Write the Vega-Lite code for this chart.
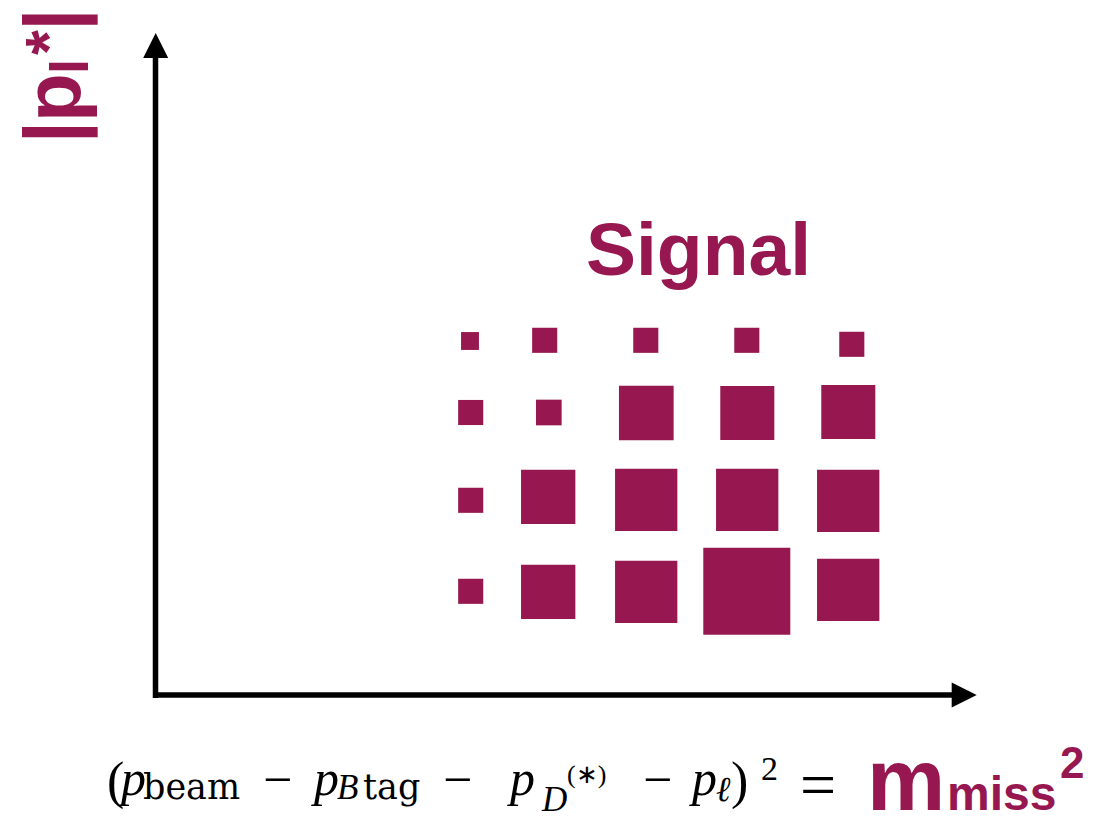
{
  "$schema": "https://vega.github.io/schema/vega-lite/v6.json",
  "width": 1097,
  "height": 816,
  "autosize": {"type": "none"},
  "padding": 0,
  "background": "white",
  "config": {"view": {"stroke": null}},
  "encoding": {
    "x": {"field": "x", "type": "quantitative", "scale": {"domain": [-1.56, 9.41], "nice": false, "zero": false}, "axis": null},
    "y": {"field": "y", "type": "quantitative", "scale": {"domain": [-1.21, 6.95], "nice": false, "zero": false}, "axis": null}
  },
  "layer": [
    {
      "data": {"values": [
        {"axis": "y", "x": -0.005, "x2": -0.005, "y": -0.03, "y2": 6.4},
        {"axis": "x", "x": -0.03, "x2": 7.98, "y": 0, "y2": 0}
      ]},
      "mark": {"type": "rule", "color": "black", "strokeWidth": 5.5, "strokeCap": "butt"},
      "encoding": {"x2": {"field": "x2"}, "y2": {"field": "y2"}}
    },
    {
      "data": {"values": [
        {"dir": "up", "x": -0.003, "y": 6.495},
        {"dir": "right", "x": 8.082, "y": 0}
      ]},
      "mark": {"type": "point", "filled": true, "size": 625, "color": "black", "opacity": 1, "strokeWidth": 0},
      "encoding": {
        "shape": {"field": "dir", "type": "nominal", "scale": {"domain": ["up", "right"], "range": ["M0,-1L1,1L-1,1Z", "M1,0L-1,-1L-1,1Z"]}, "legend": null}
      }
    },
    {
      "data": {"values": [
        {"x": 3.14, "y": 3.54, "n": 3.2},
        {"x": 3.887, "y": 3.547, "n": 6.3},
        {"x": 4.898, "y": 3.547, "n": 6.3},
        {"x": 5.908, "y": 3.547, "n": 6.3},
        {"x": 6.958, "y": 3.507, "n": 6.3},
        {"x": 3.147, "y": 2.825, "n": 6.3},
        {"x": 3.928, "y": 2.825, "n": 6.6},
        {"x": 4.903, "y": 2.82, "n": 29.9},
        {"x": 5.913, "y": 2.82, "n": 29.2},
        {"x": 6.923, "y": 2.83, "n": 29.2},
        {"x": 3.147, "y": 1.947, "n": 6.3},
        {"x": 3.922, "y": 1.982, "n": 29.5},
        {"x": 4.902, "y": 1.952, "n": 38.8},
        {"x": 5.912, "y": 1.952, "n": 38.8},
        {"x": 6.922, "y": 1.942, "n": 38.8},
        {"x": 3.147, "y": 1.037, "n": 6.3},
        {"x": 3.922, "y": 1.032, "n": 29.5},
        {"x": 4.902, "y": 1.032, "n": 38.8},
        {"x": 5.908, "y": 1.037, "n": 75.7},
        {"x": 6.922, "y": 1.052, "n": 38.8}
      ]},
      "mark": {"type": "square", "color": "#971850", "opacity": 1, "strokeWidth": 0},
      "encoding": {
        "size": {"field": "n", "type": "quantitative", "scale": {"domain": [0, 100], "range": [0, 10000], "zero": true}, "legend": null}
      }
    },
    {
      "data": {"values": [{"t": "Signal", "x": 5.425, "y": 4.2}]},
      "mark": {"type": "text", "font": "Liberation Sans", "fontWeight": "bold", "fontSize": 75, "color": "#971850", "align": "center", "baseline": "alphabetic"},
      "encoding": {"text": {"field": "t"}}
    },
    {
      "data": {"values": [
        {"t": "|", "x": -0.76, "y": 5.63},
        {"t": "p", "x": -0.76, "y": 5.975},
        {"t": "|", "x": -0.76, "y": 6.755}
      ]},
      "mark": {"type": "text", "font": "Liberation Sans", "fontWeight": "bold", "fontSize": 80, "color": "#971850", "align": "center", "baseline": "alphabetic", "angle": 270},
      "encoding": {"text": {"field": "t"}}
    },
    {
      "data": {"values": [{"t": "l", "x": -0.68, "y": 6.285}]},
      "mark": {"type": "text", "font": "Liberation Sans", "fontWeight": "bold", "fontSize": 54, "color": "#971850", "align": "center", "baseline": "alphabetic", "angle": 270},
      "encoding": {"text": {"field": "t"}}
    },
    {
      "data": {"values": [{"t": "*", "x": -0.85, "y": 6.525}]},
      "mark": {"type": "text", "font": "Liberation Sans", "fontWeight": "bold", "fontSize": 64, "color": "#971850", "align": "center", "baseline": "alphabetic", "angle": 270},
      "encoding": {"text": {"field": "t"}}
    },
    {
      "data": {"values": [
        {"t": "(", "x": -0.49, "y": -1.03},
        {"t": "−", "x": 1.07, "y": -1.02},
        {"t": "−", "x": 2.87, "y": -1.02},
        {"t": "−", "x": 4.87, "y": -1.02},
        {"t": ")", "x": 5.75, "y": -1.03}
      ]},
      "mark": {"type": "text", "font": "Liberation Serif", "fontSize": 52, "color": "black", "align": "left", "baseline": "alphabetic"},
      "encoding": {"text": {"field": "t"}}
    },
    {
      "data": {"values": [
        {"t": "p", "x": -0.35, "y": -1.0},
        {"t": "p", "x": 1.58, "y": -1.0},
        {"t": "p", "x": 3.54, "y": -1.0},
        {"t": "p", "x": 5.36, "y": -1.0}
      ]},
      "mark": {"type": "text", "font": "Liberation Serif", "fontStyle": "italic", "fontSize": 50, "color": "black", "align": "left", "baseline": "alphabetic"},
      "encoding": {"text": {"field": "t"}}
    },
    {
      "data": {"values": [
        {"t": "beam", "x": -0.13, "y": -1.035},
        {"t": "tag", "x": 2.07, "y": -1.035}
      ]},
      "mark": {"type": "text", "font": "DejaVu Serif", "fontSize": 35, "color": "black", "align": "left", "baseline": "alphabetic"},
      "encoding": {"text": {"field": "t"}}
    },
    {
      "data": {"values": [
        {"t": "B", "x": 1.81, "y": -1.04},
        {"t": "D", "x": 3.86, "y": -1.16},
        {"t": "ℓ", "x": 5.6, "y": -1.06}
      ]},
      "mark": {"type": "text", "font": "Liberation Serif", "fontStyle": "italic", "fontSize": 35, "color": "black", "align": "left", "baseline": "alphabetic"},
      "encoding": {"text": {"field": "t"}}
    },
    {
      "data": {"values": [{"t": "(∗)", "x": 4.11, "y": -0.88}]},
      "mark": {"type": "text", "font": "Liberation Serif", "fontSize": 26, "color": "black", "align": "left", "baseline": "alphabetic"},
      "encoding": {"text": {"field": "t"}}
    },
    {
      "data": {"values": [{"t": "2", "x": 6.05, "y": -0.85}]},
      "mark": {"type": "text", "font": "Liberation Serif", "fontSize": 34, "color": "black", "align": "left", "baseline": "alphabetic"},
      "encoding": {"text": {"field": "t"}}
    },
    {
      "data": {"values": [{"t": "=", "x": 6.44, "y": -1.11}]},
      "mark": {"type": "text", "font": "Liberation Serif", "fontSize": 64, "color": "black", "align": "left", "baseline": "alphabetic"},
      "encoding": {"text": {"field": "t"}}
    },
    {
      "data": {"values": [{"t": "m", "x": 7.11, "y": -1.15}]},
      "mark": {"type": "text", "font": "Liberation Sans", "fontWeight": "bold", "fontSize": 88, "color": "#971850", "align": "left", "baseline": "alphabetic"},
      "encoding": {"text": {"field": "t"}}
    },
    {
      "data": {"values": [{"t": "miss", "x": 7.91, "y": -1.15}]},
      "mark": {"type": "text", "font": "Liberation Sans", "fontWeight": "bold", "fontSize": 48, "color": "#971850", "align": "left", "baseline": "alphabetic"},
      "encoding": {"text": {"field": "t"}}
    },
    {
      "data": {"values": [{"t": "2", "x": 9.04, "y": -0.83}]},
      "mark": {"type": "text", "font": "Liberation Sans", "fontWeight": "bold", "fontSize": 44, "color": "#971850", "align": "left", "baseline": "alphabetic"},
      "encoding": {"text": {"field": "t"}}
    }
  ]
}
